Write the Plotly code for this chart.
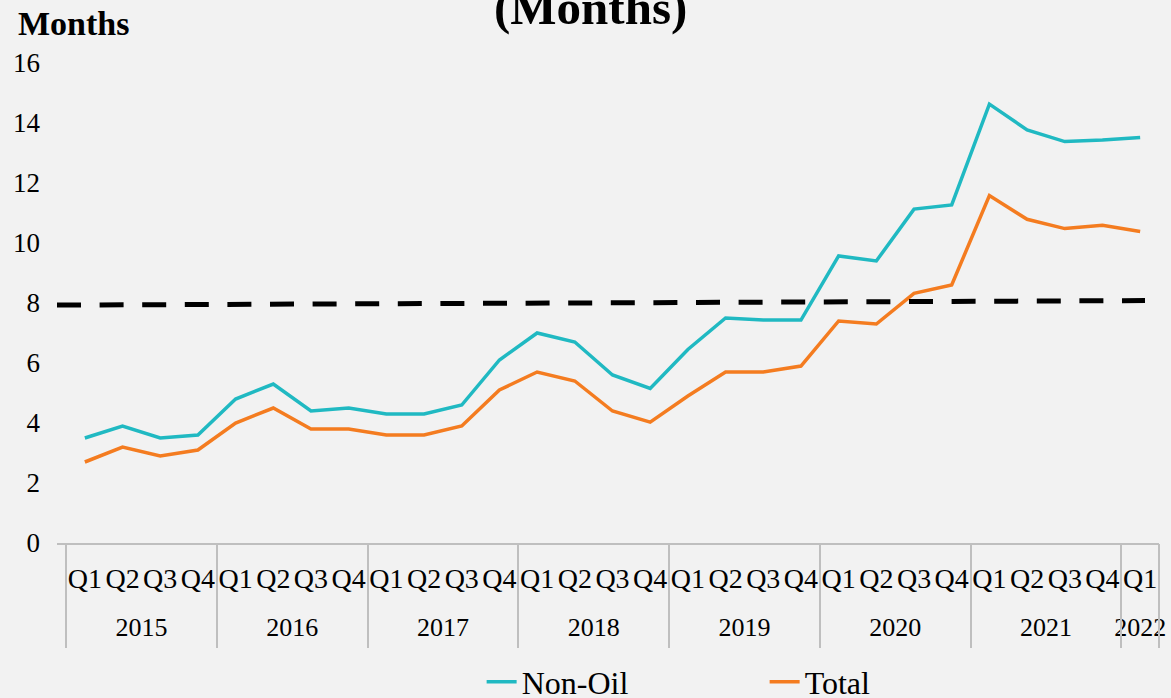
import plotly.graph_objects as go

# ---- data ----
years = ["2015", "2016", "2017", "2018", "2019", "2020", "2021", "2022"]
quarters = ["Q1", "Q2", "Q3", "Q4"]
year_labels = [y for y in years[:-1] for _ in quarters] + ["2022"]
quarter_labels = quarters * 7 + ["Q1"]

non_oil = [3.5, 3.9, 3.5, 3.6, 4.8, 5.3, 4.4, 4.5, 4.3, 4.3, 4.6, 6.1,
           7.0, 6.7, 5.6, 5.15, 6.45, 7.5, 7.43, 7.43, 9.57, 9.4, 11.13, 11.27,
           14.63, 13.77, 13.38, 13.43, 13.52]
total = [2.7, 3.2, 2.9, 3.1, 4.0, 4.5, 3.8, 3.8, 3.6, 3.6, 3.9, 5.1,
         5.7, 5.4, 4.4, 4.03, 4.9, 5.7, 5.7, 5.9, 7.4, 7.3, 8.32, 8.6,
         11.58, 10.79, 10.48, 10.59, 10.38]

threshold_x = [0, 1]
threshold_y = [7.93, 8.08]

# category positions, year group centres and boundaries (derived from labels)
idx = list(range(len(quarter_labels)))
group_centres, group_edges = [], [-0.5]
for yr in years:
    members = [i for i, y in enumerate(year_labels) if y == yr]
    group_centres.append((members[0] + members[-1]) / 2)
    group_edges.append(members[-1] + 0.5)

FONT = "Liberation Serif"
BG = "#F2F2F2"
GREY = "#BFBFBF"
X_RANGE = [-0.7388, 28.5]

fig = go.Figure()
fig.add_trace(go.Scatter(
    x=idx, y=non_oil, name="Non-Oil", mode="lines",
    line=dict(color="#20B9C2", width=3.5)))
fig.add_trace(go.Scatter(
    x=idx, y=total, name="Total", mode="lines",
    line=dict(color="#F47C20", width=3.5)))
fig.add_trace(go.Scatter(
    x=threshold_x, y=threshold_y, xaxis="x2", mode="lines", showlegend=False,
    line=dict(color="#000000", width=5, dash="24px,18.6px")))
# empty traces so the year-label axis and the divider axis get drawn
for ax in ("x3", "x4"):
    fig.add_trace(go.Scatter(x=[], y=[], xaxis=ax, mode="lines",
                             showlegend=False, hoverinfo="skip"))

fig.update_layout(
    width=1171, height=698,
    paper_bgcolor=BG, plot_bgcolor=BG,
    margin=dict(l=57, r=12, t=63, b=155),
    font=dict(family=FONT, color="#000000", size=26),
    showlegend=True,
    legend=dict(orientation="h", xref="container", yref="container",
                x=0.4113, xanchor="left", y=(698 - 682) / 698, yanchor="middle",
                font=dict(family=FONT, size=32), bgcolor="rgba(0,0,0,0)",
                entrywidth=238, itemwidth=30),
    xaxis=dict(range=X_RANGE, tickvals=idx, ticktext=quarter_labels,
               showline=True, linecolor=GREY, linewidth=1.5,
               showgrid=False, zeroline=False, ticks="", tickangle=0, automargin=False,
               ticklabelstandoff=10, tickfont=dict(family=FONT, size=28)),
    xaxis2=dict(overlaying="x", anchor="y", visible=False, range=[0, 1.01287]),
    xaxis3=dict(overlaying="x", anchor="y", side="bottom", range=X_RANGE,
                tickvals=group_centres, ticktext=years, showgrid=False, zeroline=False,
                showline=False, ticks="", tickangle=0, automargin=False,
                ticklabelstandoff=66, tickfont=dict(family=FONT, size=26)),
    xaxis4=dict(overlaying="x", anchor="y", side="bottom", range=X_RANGE,
                tickvals=group_edges, showticklabels=False, showgrid=False,
                zeroline=False, showline=False, ticks="outside", ticklen=104,
                tickwidth=1.5, tickcolor=GREY, automargin=False),
    yaxis=dict(range=[0, 16], dtick=2, showgrid=False, zeroline=False, showline=False,
               ticks="", ticklabelstandoff=16, automargin=False,
               tickfont=dict(family=FONT, size=27)),
)

fig.add_annotation(text="<b>(Months)</b>", xref="paper", yref="paper",
                   x=(590 - 57) / 1102, y=(543 - 37) / 480, xanchor="center", yanchor="bottom",
                   showarrow=False, font=dict(family=FONT, size=49))
fig.add_annotation(text="<b>Months</b>", xref="paper", yref="paper",
                   x=(16 - 57) / 1102, y=(543 - 24) / 480, xanchor="left", yanchor="middle",
                   showarrow=False, font=dict(family=FONT, size=34))

fig.write_html("out.html", config={"displayModeBar": False},
               post_script="document.body.style.margin='0';")
